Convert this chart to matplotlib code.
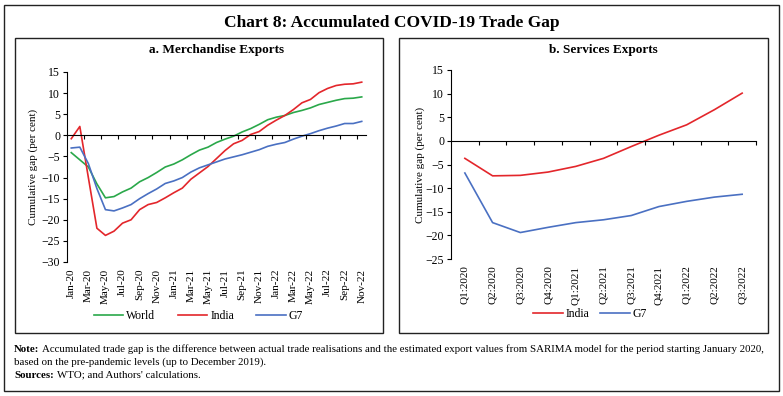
import numpy as np
import matplotlib
matplotlib.use("Agg")
import matplotlib.pyplot as plt
from matplotlib.patches import Rectangle

plt.rcParams["font.family"] = ["Liberation Serif", "DejaVu Serif"]

W, H = 783, 396

# ─── Données ──────────────────────────────────────────────────────────────────
MONTHS = ["Jan-20", "Feb-20", "Mar-20", "Apr-20", "May-20", "Jun-20", "Jul-20", "Aug-20",
          "Sep-20", "Oct-20", "Nov-20", "Dec-20", "Jan-21", "Feb-21", "Mar-21", "Apr-21",
          "May-21", "Jun-21", "Jul-21", "Aug-21", "Sep-21", "Oct-21", "Nov-21", "Dec-21",
          "Jan-22", "Feb-22", "Mar-22", "Apr-22", "May-22", "Jun-22", "Jul-22", "Aug-22",
          "Sep-22", "Oct-22", "Nov-22"]
MERCH_WORLD = [-4.1, -5.8, -7.5, -11.5, -14.8, -14.5, -13.4, -12.5, -11.0, -10.0, -8.8, -7.5,
               -6.8, -5.8, -4.6, -3.5, -2.8, -1.7, -0.9, -0.2, 0.8, 1.6, 2.6, 3.7,
               4.3, 4.7, 5.4, 5.9, 6.5, 7.3, 7.8, 8.3, 8.7, 8.8, 9.1]
MERCH_INDIA = [-0.8, 2.1, -10.0, -22.0, -23.7, -22.7, -20.8, -20.0, -17.6, -16.4, -15.9, -14.8,
               -13.6, -12.5, -10.4, -8.9, -7.4, -5.5, -3.6, -2.0, -1.2, 0.2, 0.9, 2.4,
               3.6, 4.7, 6.1, 7.7, 8.5, 10.1, 11.1, 11.8, 12.1, 12.2, 12.6]
MERCH_G7 = [-3.0, -2.8, -6.7, -12.6, -17.6, -17.9, -17.2, -16.4, -15.0, -13.8, -12.7, -11.4,
            -10.8, -10.0, -8.7, -7.7, -7.0, -6.3, -5.6, -5.1, -4.6, -4.0, -3.4, -2.6,
            -2.1, -1.7, -0.9, -0.2, 0.4, 1.1, 1.7, 2.2, 2.8, 2.8, 3.3]

QUARTERS = ["Q1:2020", "Q2:2020", "Q3:2020", "Q4:2020", "Q1:2021", "Q2:2021", "Q3:2021",
            "Q4:2021", "Q1:2022", "Q2:2022", "Q3:2022"]
SERV_INDIA = [-3.7, -7.4, -7.3, -6.6, -5.4, -3.7, -1.2, 1.2, 3.4, 6.6, 10.1]
SERV_G7 = [-6.8, -17.3, -19.4, -18.3, -17.3, -16.7, -15.8, -13.9, -12.8, -11.9, -11.3]

GREEN, RED, BLUE = "#2AA84A", "#E3262B", "#4A70C2"

fig = plt.figure(figsize=(W / 100, H / 100), dpi=100)


def px_axes(x0, y0, x1, y1):
    """Axes à partir de coordonnées pixel (origine en haut à gauche)."""
    return fig.add_axes([x0 / W, 1 - y1 / H, (x1 - x0) / W, (y1 - y0) / H])


def frame(x0, y0, x1, y1, lw=1.0):
    fig.add_artist(Rectangle((x0 / W, 1 - y1 / H), (x1 - x0) / W, (y1 - y0) / H,
                             transform=fig.transFigure, fill=False, lw=lw, ec="#222222"))


def style_axes(ax, labels, ymin, ymax):
    n = len(labels)
    ax.set_xlim(-0.5, n - 0.5)
    ax.set_ylim(ymin, ymax)
    ax.set_yticks(np.arange(ymin, ymax + 1, 5))
    ax.tick_params(axis="y", direction="out", length=3, width=0.8, labelsize=8.5, pad=2)
    for s in ["top", "right"]:
        ax.spines[s].set_visible(False)
    ax.spines["left"].set_linewidth(0.8)
    ax.spines["bottom"].set_position(("data", 0))
    ax.spines["bottom"].set_linewidth(0.8)
    ax.set_xticks(np.arange(0.5, n - 0.5 + 0.01, 1.0))
    ax.set_xticklabels([])
    ax.tick_params(axis="x", direction="out", length=3, width=0.8)
    ax.set_facecolor("none")


def bold_lead(x, y, lead, rest, fs=7.8):
    t = fig.text(x / W, 1 - y / H, lead, fontsize=fs, fontweight="bold", va="bottom")
    plt.annotate(rest, xy=(1, 0), xycoords=t, xytext=(2, 0), textcoords="offset points",
                 fontsize=fs, va="bottom", ha="left", annotation_clip=False)


# ─── Cadres ───────────────────────────────────────────────────────────────────
frame(4, 5, 779, 391)
frame(15, 38, 383, 333)
frame(399, 38, 768, 333)

fig.text(392 / W, 1 - 23 / H, "Chart 8: Accumulated COVID-19 Trade Gap",
         ha="center", va="center", fontsize=12.5, fontweight="bold")

# ─── a. Merchandise ───────────────────────────────────────────────────────────
ax1 = px_axes(67, 72, 366, 262)
x1 = np.arange(len(MONTHS))
ax1.plot(x1, MERCH_WORLD, color=GREEN, lw=1.2, label="World")
ax1.plot(x1, MERCH_INDIA, color=RED, lw=1.2, label="India")
ax1.plot(x1, MERCH_G7, color=BLUE, lw=1.2, label="G7")
style_axes(ax1, MONTHS, -30, 15)
ax1.set_xticks(np.arange(1.5, len(MONTHS) - 1, 2.0))
for i in range(0, len(MONTHS), 2):
    ax1.text(i, -0.035, MONTHS[i], transform=ax1.get_xaxis_transform(),
             rotation=90, ha="center", va="top", fontsize=8)
ax1.set_ylabel("Cumulative gap (per cent)", fontsize=8)
ax1.yaxis.set_label_coords(-0.098, 0.5)
ax1.set_title("a. Merchandise Exports", fontsize=9.5, fontweight="bold", pad=14)
ax1.legend(loc="center", bbox_to_anchor=(0.44, -0.285), ncol=3, frameon=False,
           fontsize=8.5, handlelength=2.5, columnspacing=1.9, handletextpad=0.25)

# ─── b. Services ──────────────────────────────────────────────────────────────
ax2 = px_axes(451, 70, 756, 259)
x2 = np.arange(len(QUARTERS))
ax2.plot(x2, SERV_INDIA, color=RED, lw=1.2, label="India")
ax2.plot(x2, SERV_G7, color=BLUE, lw=1.2, label="G7")
style_axes(ax2, QUARTERS, -25, 15)
for i, q in enumerate(QUARTERS):
    ax2.text(i, -0.035, q, transform=ax2.get_xaxis_transform(),
             rotation=90, ha="center", va="top", fontsize=8)
ax2.set_ylabel("Cumulative gap (per cent)", fontsize=8)
ax2.yaxis.set_label_coords(-0.085, 0.5)
ax2.set_title("b. Services Exports", fontsize=9.5, fontweight="bold", pad=12)
ax2.legend(loc="center", bbox_to_anchor=(0.456, -0.29), ncol=2, frameon=False,
           fontsize=8.5, handlelength=2.5, columnspacing=0.9, handletextpad=0.25)

# ─── Note et sources ──────────────────────────────────────────────────────────
note = ("Accumulated trade gap is the difference between actual trade realisations and the "
        "estimated export values from SARIMA model for the period starting January 2020,")
bold_lead(14, 354, "Note:", note)
fig.text(14 / W, 1 - 367 / H, "based on the pre-pandemic levels (up to December 2019).",
         fontsize=7.8, va="bottom")
bold_lead(14, 380, "Sources:", "WTO; and Authors' calculations.")

fig.savefig("out.png", dpi=100)
